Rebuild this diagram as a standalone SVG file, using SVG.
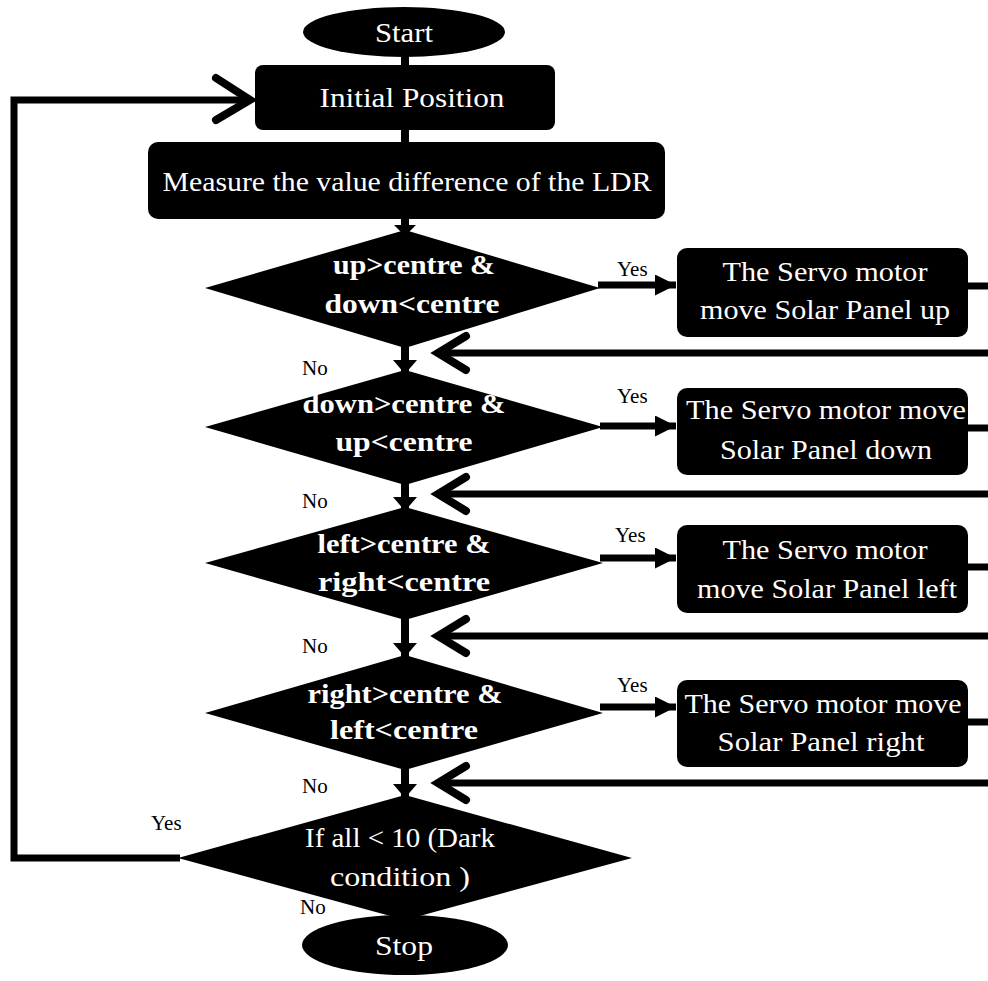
<svg xmlns="http://www.w3.org/2000/svg" width="988" height="981" viewBox="0 0 988 981">
<style>
.s{fill:#000}
.ln{stroke:#000;stroke-width:7;fill:none}
.vl{stroke:#000;stroke-width:8;fill:none}
.chev{stroke:#000;stroke-width:8;fill:none;stroke-linecap:round;stroke-linejoin:miter}
.t{font-family:"Liberation Serif","DejaVu Serif",serif;fill:#fff;font-size:28px;text-anchor:middle}
.b{font-weight:bold;font-size:28px}
.lab{font-family:"Liberation Serif","DejaVu Serif",serif;fill:#000;font-size:21px}
</style>
<defs>
<marker id="ah" viewBox="0 0 10 10" refX="10" refY="5" markerWidth="3" markerHeight="3" orient="auto" markerUnits="strokeWidth">
<path d="M0,0 L10,5 L0,10 z" fill="#000"/>
</marker>
</defs>
<rect width="988" height="981" fill="#fff"/>

<g id="connectors">
<line class="vl" x1="405" y1="55" x2="405" y2="68"/>
<line class="vl" x1="405" y1="128" x2="405" y2="145"/>
<line class="vl" x1="405" y1="215" x2="405" y2="232"/>
<polygon class="s" points="394,225 416,225 405,236"/>
<line class="vl" x1="405" y1="345" x2="405" y2="372"/>
<polygon class="s" points="393,360 417,360 405,374"/>
<line class="vl" x1="405" y1="482" x2="405" y2="509"/>
<polygon class="s" points="393,497 417,497 405,511"/>
<line class="vl" x1="405" y1="617" x2="405" y2="657"/>
<polygon class="s" points="393,643 417,643 405,657"/>
<line class="vl" x1="405" y1="767" x2="405" y2="797"/>
<polygon class="s" points="393,784 417,784 405,798"/>
<line class="vl" x1="405" y1="915" x2="405" y2="922"/>
<line class="ln" x1="598" y1="285" x2="676" y2="285" marker-end="url(#ah)"/>
<line class="ln" x1="600" y1="426" x2="676" y2="426" marker-end="url(#ah)"/>
<line class="ln" x1="600" y1="558" x2="676" y2="558" marker-end="url(#ah)"/>
<line class="ln" x1="600" y1="707" x2="676" y2="707" marker-end="url(#ah)"/>
<line class="ln" x1="966" y1="286" x2="988" y2="286"/>
<line class="ln" x1="966" y1="428" x2="988" y2="428"/>
<line class="ln" x1="966" y1="567" x2="988" y2="567"/>
<line class="ln" x1="966" y1="722" x2="988" y2="722"/>
<line class="ln" x1="438" y1="353" x2="988" y2="353"/>
<polyline class="chev" points="466,336 438,353 466,370"/>
<line class="ln" x1="438" y1="494" x2="988" y2="494"/>
<polyline class="chev" points="466,477 438,494 466,511"/>
<line class="ln" x1="438" y1="636" x2="988" y2="636"/>
<polyline class="chev" points="466,619 438,636 466,653"/>
<line class="ln" x1="438" y1="783" x2="988" y2="783"/>
<polyline class="chev" points="466,766 438,783 466,800"/>
<polyline class="ln" points="180,858 14,858 14,100 250,100"/>
<polyline class="chev" points="216,78 250,100 216,120"/>
</g>

<g id="start">
<ellipse class="s" cx="404" cy="32" rx="101" ry="25"/>
<text class="t" x="404" y="42" font-size="26" textLength="58" lengthAdjust="spacingAndGlyphs">Start</text>
</g>
<g id="initial">
<rect class="s" x="255" y="65" width="300" height="65" rx="8"/>
<text class="t" x="412" y="107" textLength="185" lengthAdjust="spacingAndGlyphs">Initial Position</text>
</g>
<g id="measure">
<rect class="s" x="148" y="142" width="517" height="77" rx="10"/>
<text class="t" x="407" y="191" textLength="489" lengthAdjust="spacingAndGlyphs">Measure the value difference of the LDR</text>
</g>

<g id="d1">
<polygon class="s" points="205,288 405,230 600,288 405,348"/>
<text class="t b" x="414" y="274" textLength="162" lengthAdjust="spacingAndGlyphs">up&gt;centre &amp;</text>
<text class="t b" x="412" y="313" textLength="175" lengthAdjust="spacingAndGlyphs">down&lt;centre</text>
</g>
<g id="d2">
<polygon class="s" points="205,427 405,370 603,427 405,485"/>
<text class="t b" x="404" y="413" textLength="203" lengthAdjust="spacingAndGlyphs">down&gt;centre &amp;</text>
<text class="t b" x="404" y="451" textLength="137" lengthAdjust="spacingAndGlyphs">up&lt;centre</text>
</g>
<g id="d3">
<polygon class="s" points="205,563 405,507 603,563 405,620"/>
<text class="t b" x="404" y="553" textLength="173" lengthAdjust="spacingAndGlyphs">left&gt;centre &amp;</text>
<text class="t b" x="404" y="591" textLength="172" lengthAdjust="spacingAndGlyphs">right&lt;centre</text>
</g>
<g id="d4">
<polygon class="s" points="205,713 405,655 603,713 405,770"/>
<text class="t b" x="405" y="703" textLength="195" lengthAdjust="spacingAndGlyphs">right&gt;centre &amp;</text>
<text class="t b" x="404" y="739" textLength="148" lengthAdjust="spacingAndGlyphs">left&lt;centre</text>
</g>
<g id="d5">
<polygon class="s" points="178,858 405,795 632,858 405,920"/>
<text class="t" x="400" y="847" textLength="190" lengthAdjust="spacingAndGlyphs">If all &lt; 10 (Dark</text>
<text class="t" x="400" y="886" textLength="140" lengthAdjust="spacingAndGlyphs">condition )</text>
</g>
<g id="stop">
<ellipse class="s" cx="405" cy="945" rx="103" ry="30"/>
<text class="t" x="404" y="955" font-size="26" textLength="58" lengthAdjust="spacingAndGlyphs">Stop</text>
</g>

<g id="b1">
<rect class="s" x="677" y="248" width="291" height="89" rx="10"/>
<text class="t" x="825" y="281" textLength="205" lengthAdjust="spacingAndGlyphs">The Servo motor</text>
<text class="t" x="825" y="319" textLength="250" lengthAdjust="spacingAndGlyphs">move Solar Panel up</text>
</g>
<g id="b2">
<rect class="s" x="677" y="388" width="291" height="87" rx="10"/>
<text class="t" x="826" y="419" textLength="280" lengthAdjust="spacingAndGlyphs">The Servo motor move</text>
<text class="t" x="826" y="459" textLength="212" lengthAdjust="spacingAndGlyphs">Solar Panel down</text>
</g>
<g id="b3">
<rect class="s" x="677" y="525" width="291" height="88" rx="10"/>
<text class="t" x="825" y="559" textLength="205" lengthAdjust="spacingAndGlyphs">The Servo motor</text>
<text class="t" x="827" y="598" textLength="260" lengthAdjust="spacingAndGlyphs">move Solar Panel left</text>
</g>
<g id="b4">
<rect class="s" x="677" y="680" width="291" height="87" rx="10"/>
<text class="t" x="823" y="713" textLength="277" lengthAdjust="spacingAndGlyphs">The Servo motor move</text>
<text class="t" x="821" y="751" textLength="207" lengthAdjust="spacingAndGlyphs">Solar Panel right</text>
</g>

<g id="labels">
<text class="lab" x="617" y="276">Yes</text>
<text class="lab" x="617" y="403">Yes</text>
<text class="lab" x="615" y="542">Yes</text>
<text class="lab" x="617" y="692">Yes</text>
<text class="lab" x="151" y="830">Yes</text>
<text class="lab" x="302" y="375">No</text>
<text class="lab" x="302" y="508">No</text>
<text class="lab" x="302" y="653">No</text>
<text class="lab" x="302" y="793">No</text>
<text class="lab" x="300" y="914">No</text>
</g>
</svg>
